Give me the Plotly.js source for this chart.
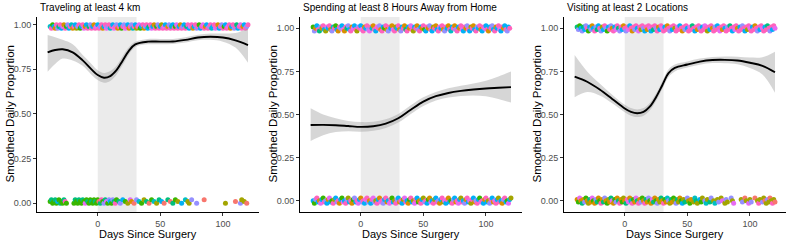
<!DOCTYPE html>
<html>
<head>
<meta charset="utf-8">
<script src="https://cdn.plot.ly/plotly-3.0.1.min.js"></script>
<style>html,body{margin:0;padding:0;background:#fff;}#chart{width:789px;height:241px;}</style>
</head>
<body>
<div id="chart"></div>
<script>
// ---- data ----
const panelTitles = ["Traveling at least 4 km", "Spending at least 8 Hours Away from Home", "Visiting at least 2 Locations"];
const xTitle = "Days Since Surgery";
const yTitle = "Smoothed Daily Proportion";
const xTickVals = [0, 50, 100];
const yTickVals = [0, 0.25, 0.5, 0.75, 1];
const yTickText = ["0.00", "0.25", "0.50", "0.75", "1.00"];
const surgeryWindow = [0, 31];
const participantColors = ["#F8766D","#D89000","#A3A500","#39B600","#00BF7D","#00BFC4","#00B0F6","#9590FF","#E76BF3","#FF62BC"];

// jittered daily observations: [day, jitter step, participant]
const top1 = [[-38,-1,5],[-37,-2,9],[-36,0,3],[-35,-1,6],[-34,-2,1],[-33,0,9],[-32,-2,7],[-31,-1,4],[-30,0,9],[-29,-2,6],
[-28,-1,8],[-27,0,1],[-26,-2,9],[-25,-1,3],[-24,0,7],[-23,-2,6],[-22,-1,9],[-21,0,5],[-20,-2,1],[-19,-1,9],
[-18,0,6],[-17,-2,2],[-16,-1,7],[-15,0,9],[-14,-2,3],[-13,-1,6],[-12,0,9],[-11,-2,8],[-10,-1,1],[-9,0,6],
[-8,-2,9],[-7,-1,4],[-6,0,7],[-5,-2,9],[-4,-1,6],[-3,0,1],[-2,-2,9],[-1,-1,8],[0,0,6],[1,-2,9],
[2,-1,7],[3,0,9],[4,-2,1],[5,-1,6],[6,0,9],[7,-2,8],[8,-1,7],[9,0,9],[10,-2,5],[11,-1,9],
[12,0,6],[13,-2,8],[14,-1,9],[15,0,7],[16,-2,1],[17,-1,9],[18,0,6],[19,-2,3],[20,-1,9],[21,0,7],
[22,-2,8],[23,-1,9],[24,0,6],[25,-2,1],[26,-1,9],[27,0,7],[28,-2,5],[29,-1,9],[30,0,6],[31,-2,2],
[32,-1,9],[33,0,8],[34,-2,3],[35,-1,6],[36,0,9],[37,-2,1],[38,-1,7],[39,0,9],[40,-2,6],[41,-1,4],
[42,0,9],[43,-2,8],[44,-1,6],[45,0,1],[46,-2,9],[47,-1,3],[48,0,7],[49,-2,9],[50,-1,6],[51,0,2],
[52,-2,9],[53,-1,8],[54,0,6],[55,-2,9],[56,-1,1],[57,0,7],[58,-2,9],[59,-1,5],[60,0,6],[61,-2,9],
[62,-1,3],[63,0,8],[64,-2,9],[65,-1,6],[66,0,1],[67,-2,9],[68,-1,7],[69,0,6],[70,-2,9],[71,-1,4],
[72,0,9],[73,-2,6],[74,-1,8],[75,0,9],[76,-2,1],[77,-1,6],[78,0,9],[79,-2,7],[80,-1,9],[81,0,3],
[82,-2,6],[83,-1,9],[84,0,8],[85,-2,9],[86,-1,1],[87,0,6],[88,-2,9],[89,-1,7],[90,0,9],[91,-2,5],
[92,-1,6],[93,0,9],[94,-2,8],[95,-1,9],[96,0,1],[97,-2,6],[98,-1,9],[99,0,7],[100,-2,9],[101,-1,3],
[102,0,6],[103,-2,9],[104,-1,8],[105,0,9],[106,-2,1],[107,-1,6],[108,0,9],[109,-2,7],[110,-1,9],[111,0,4],
[112,-2,6],[113,-1,9],[114,0,8],[115,-2,9],[116,-1,1],[117,0,6],[118,-2,9],[119,-1,7],[120,0,9]];

const bottom1 = [[-38,1,3],[-37,2,4],[-36,0,3],[-35,1,3],[-34,2,4],[-33,0,3],[-32,1,6],[-31,2,3],[-30,0,4],[-29,1,3],
[-28,0,3],[-27,2,4],[-26,1,9],[-25,0,3],
[-19,0,3],[-18,2,4],[-17,1,3],[-16,0,3],[-15,2,4],[-14,1,3],[-13,0,3],[-12,2,4],[-11,1,3],[-10,0,8],
[-9,2,3],[-8,1,4],[-7,0,3],[-6,2,3],[-5,1,4],[-4,0,3],[-3,2,3],[-2,1,4],[-1,0,3],[0,2,3],
[1,1,0],[2,0,4],[3,2,9],[4,1,3],[5,0,7],[6,2,4],[7,1,8],[8,0,3],[9,2,7],[10,1,6],
[11,0,3],[12,2,7],[13,1,4],[14,0,9],[15,2,3],[17,1,4],[18,0,7],[20,2,6],[22,1,3],[24,0,2],
[26,2,8],[27,1,1],[29,0,0],[31,2,7],[33,1,5],[35,0,3],[37,2,2],[39,1,4],[41,0,0],[43,2,3],
[45,1,5],[47,0,2],[49,2,4],[51,1,6],[53,0,0],[56,2,4],[58,1,0],[60,0,4],[62,2,3],[64,1,2],
[67,0,6],[70,2,5],[72,1,2],[73,0,2],[75,2,7],[79,0,7],[85,2,0],[102,0,2],[110,1,0],[114,0,7],
[115,2,2],[117,1,2],[119,0,0]];

const top2 = [[-38,1,3],[-37,-2,7],[-36,0,1],[-35,2,6],[-34,-1,9],[-33,-2,4],[-32,1,7],[-31,0,1],[-30,2,9],[-29,-1,6],
[-28,-2,2],[-27,1,8],[-26,0,6],[-25,2,9],[-24,-1,1],[-23,-2,7],[-22,1,5],[-21,0,9],[-20,2,3],[-19,-1,6],
[-18,-2,1],[-17,1,9],[-16,0,7],[-15,2,6],[-14,-1,8],[-13,-2,1],[-12,1,9],[-11,0,4],[-10,2,7],[-9,-1,6],
[-8,-2,9],[-7,1,1],[-6,0,8],[-5,2,6],[-4,-1,9],[-3,-2,2],[-2,1,7],[-1,0,9],[0,2,6],[1,-1,8],
[2,-2,9],[3,1,1],[4,0,6],[5,2,9],[6,-1,7],[7,-2,8],[8,1,9],[9,0,5],[10,2,1],[11,-1,9],
[12,-2,6],[13,1,8],[14,0,9],[15,2,7],[16,-1,1],[17,-2,9],[18,1,6],[19,0,3],[20,2,9],[21,-1,1],
[22,-2,7],[23,1,9],[24,0,6],[25,2,1],[26,-1,8],[27,-2,9],[28,1,2],[29,0,6],[30,2,9],[31,-1,1],
[32,-2,7],[33,1,6],[34,0,9],[35,2,1],[36,-1,4],[37,-2,9],[38,1,6],[39,0,1],[40,2,8],[41,-1,9],
[42,-2,2],[43,1,6],[44,0,9],[45,2,1],[46,-1,7],[47,-2,9],[48,1,6],[49,0,1],[50,2,9],[51,-1,3],
[52,-2,6],[53,1,9],[54,0,1],[55,2,7],[56,-1,9],[57,-2,6],[58,1,2],[59,0,9],[60,2,1],[61,-1,6],
[62,-2,9],[63,1,8],[64,0,6],[65,2,9],[66,-1,1],[67,-2,7],[68,1,9],[69,0,6],[70,2,1],[71,-1,9],
[72,-2,5],[73,1,6],[74,0,9],[75,2,1],[76,-1,7],[77,-2,9],[78,1,6],[79,0,1],[80,2,9],[81,-1,8],
[82,-2,6],[83,1,9],[84,0,1],[85,2,7],[86,-1,9],[87,-2,6],[88,1,2],[89,0,9],[90,2,1],[91,-1,6],
[92,-2,9],[93,1,7],[94,0,6],[95,2,9],[96,-1,1],[97,-2,6],[98,1,9],[99,0,8],[100,2,6],[101,-1,9],
[102,-2,1],[103,1,6],[104,0,9],[105,2,7],[106,-1,6],[107,-2,9],[108,1,1],[109,0,6],[110,2,9],[111,-1,8],
[112,-2,6],[113,1,9],[114,0,1],[115,2,6],[116,-1,9],[117,-2,7],[118,1,6],[119,0,9]];

const bottom2 = [[-38,0,6],[-37,-2,3],[-36,1,7],[-35,2,9],[-34,-1,6],[-33,0,1],[-32,-2,8],[-31,1,6],[-30,2,3],[-29,-1,9],
[-28,0,7],[-27,-2,6],[-26,1,1],[-25,2,8],[-24,-1,6],[-23,0,3],[-22,-2,9],[-21,1,2],[-20,2,6],[-19,-1,7],
[-18,0,9],[-17,-2,1],[-16,1,6],[-15,2,3],[-14,-1,8],[-13,0,6],[-12,-2,9],[-11,1,7],[-10,2,2],[-9,-1,6],
[-8,0,9],[-7,-2,1],[-6,1,3],[-5,2,7],[-4,-1,6],[-3,0,9],[-2,-2,8],[-1,1,6],[0,2,1],[1,-1,7],
[2,0,9],[3,-2,6],[4,1,8],[5,2,9],[6,-1,7],[7,0,1],[8,-2,6],[9,1,9],[10,2,8],[11,-1,7],
[12,0,2],[13,-2,9],[14,1,6],[15,2,1],[16,-1,8],[17,0,9],[18,-2,7],[19,1,6],[20,2,9],[21,-1,1],
[22,0,6],[23,-2,8],[24,1,9],[25,2,3],[26,-1,6],[27,0,2],[28,-2,9],[29,1,7],[30,2,6],[31,-1,1],
[32,0,9],[33,-2,6],[34,1,2],[35,2,8],[36,-1,9],[37,0,6],[38,-2,1],[39,1,3],[40,2,9],[41,-1,6],
[42,0,2],[43,-2,8],[44,1,9],[45,2,6],[46,-1,3],[47,0,1],[48,-2,9],[49,1,6],[50,2,2],[51,-1,7],
[52,0,9],[53,-2,6],[54,1,3],[55,2,1],[56,-1,8],[57,0,6],[58,-2,9],[59,1,2],[60,2,6],[61,-1,9],
[62,0,7],[63,-2,1],[64,1,6],[65,2,9],[66,-1,2],[67,0,8],[68,-2,6],[69,1,9],[70,2,1],[71,-1,6],
[72,0,3],[73,-2,9],[74,1,7],[75,2,6],[76,-1,1],[77,0,9],[78,-2,8],[79,1,6],[80,2,2],[81,-1,9],
[82,0,6],[83,-2,7],[84,1,1],[85,2,9],[86,-1,6],[87,0,8],[88,-2,2],[89,1,9],[90,2,6],[91,-1,1],
[92,0,7],[93,-2,9],[94,1,6],[95,2,3],[96,-1,8],[97,0,9],[98,-2,6],[99,1,1],[100,2,9],[101,-1,6],
[102,0,2],[103,-2,7],[104,1,9],[105,2,6],[106,-1,1],[107,0,8],[108,-2,9],[109,1,6],[110,2,2],[111,-1,9],
[112,0,6],[113,-2,1],[114,1,7],[115,2,9],[116,-1,6],[117,0,3],[118,-2,8],[119,1,6],[120,2,2]];

const top3 = [[-38,1,4],[-37,-1,7],[-36,2,3],[-35,0,6],[-34,-2,7],[-33,1,4],[-32,-1,6],[-31,2,7],[-30,0,9],[-29,-2,3],
[-28,1,6],[-27,-1,7],[-26,2,1],[-25,0,6],[-24,-2,9],[-23,1,7],[-22,-1,4],[-21,2,6],[-20,0,9],[-19,-2,7],
[-18,1,2],[-17,-1,6],[-16,2,9],[-15,0,7],[-14,-2,3],[-13,1,6],[-12,-1,9],[-11,2,7],[-10,0,1],[-9,-2,9],
[-8,1,6],[-7,-1,8],[-6,2,9],[-5,0,4],[-4,-2,7],[-3,1,9],[-2,-1,6],[-1,2,1],[0,0,9],[1,-2,7],
[2,1,9],[3,-1,8],[4,2,6],[5,0,9],[6,-2,1],[7,1,9],[8,-1,7],[9,2,9],[10,0,6],[11,-2,8],
[12,1,9],[13,-1,2],[14,2,9],[15,0,7],[16,-2,6],[17,1,9],[18,-1,1],[19,2,9],[20,0,8],[21,-2,6],
[22,1,9],[23,-1,4],[24,2,9],[25,0,7],[26,-2,9],[27,1,1],[28,-1,6],[29,2,9],[30,0,8],[31,-2,9],
[32,1,6],[33,-1,9],[34,2,1],[35,0,9],[36,-2,7],[37,1,9],[38,-1,6],[39,2,9],[40,0,2],[41,-2,9],
[42,1,8],[43,-1,9],[44,2,6],[45,0,9],[46,-2,1],[47,1,9],[48,-1,7],[49,2,9],[50,0,6],[51,-2,9],
[52,1,8],[53,-1,9],[54,2,4],[55,0,9],[56,-2,6],[57,1,9],[58,-1,1],[59,2,9],[60,0,7],[61,-2,9],
[62,1,6],[63,-1,9],[64,2,8],[65,0,9],[66,-2,2],[67,1,9],[68,-1,6],[69,2,9],[70,0,1],[71,-2,9],
[72,1,7],[73,-1,9],[74,2,6],[75,0,9],[76,-2,8],[77,1,9],[78,-1,1],[79,2,9],[80,0,6],[81,-2,9],
[82,1,7],[83,-1,9],[84,2,4],[85,0,9],[86,-2,6],[87,1,9],[88,-1,8],[89,2,9],[90,0,1],[91,-2,9],
[92,1,6],[93,-1,9],[94,2,7],[95,0,9],[96,-2,6],[97,1,9],[98,-1,2],[99,2,9],[100,0,8],[101,-2,9],
[102,1,6],[103,-1,9],[104,2,1],[105,0,9],[106,-2,7],[107,1,9],[108,-1,6],[109,2,9],[110,0,8],[111,-2,9],
[112,1,6],[113,-1,9],[114,2,4],[115,0,9],[116,-2,7],[117,1,9],[118,-1,6],[119,2,9],[120,0,8]];

const bottom3 = [[-38,1,1],[-37,-1,3],[-36,2,8],[-35,0,1],[-34,-2,4],[-33,1,1],[-32,-1,7],[-31,2,3],[-30,0,1],[-29,-2,2],
[-28,1,4],[-27,-1,1],[-26,2,8],[-25,0,3],[-24,-2,1],[-23,1,7],[-22,-1,4],[-21,2,1],[-20,0,3],[-19,-2,9],
[-18,1,1],[-17,-1,4],[-16,2,7],[-15,0,1],[-14,-2,3],[-13,1,2],[-12,-1,1],[-11,2,4],[-10,0,8],[-9,-2,1],
[-8,1,3],[-7,-1,7],[-6,2,1],[-5,0,4],[-4,-2,9],[-3,1,1],[-2,-1,3],[-1,2,2],[0,0,1],[1,-2,4],
[2,1,9],[3,-1,8],[4,2,1],[5,0,5],[6,-2,9],[7,1,3],[8,-1,1],[9,2,8],[10,0,4],[11,-2,9],
[12,1,1],[13,-1,7],[14,2,3],[15,0,1],[16,-2,9],[17,1,4],[18,-1,1],[19,2,7],[20,0,3],[21,-2,1],
[22,1,8],[23,-1,4],[24,2,1],[25,0,3],[26,-2,7],[27,1,1],[28,-1,2],[29,2,4],[30,0,1],[31,-2,9],
[32,1,3],[33,-1,1],[34,2,5],[35,0,7],[36,-2,2],[37,1,4],[38,-1,1],[39,2,3],[40,0,2],[41,-2,7],
[42,1,4],[43,-1,2],[44,2,1],[45,0,3],[46,-2,6],[47,1,2],[48,-1,4],[50,2,7],[51,0,2],[52,-2,3],
[53,1,1],[55,-1,2],[56,2,5],[57,0,4],[58,-2,2],[60,1,6],[61,-1,3],[62,2,2],[64,0,7],[65,-2,5],
[66,1,2],[68,-1,4],[69,2,7],[71,0,2],[72,-2,5],[74,1,2],[75,-1,7],[77,2,2],[78,0,8],[80,-2,2],
[81,1,7],[82,-1,2],[85,2,7],[86,0,2],[87,-2,8],[93,1,2],[94,-1,7],[96,2,0],[97,0,2],[99,-2,8],
[100,1,2],[101,-1,7],[104,2,0],[106,0,2],[107,-2,9],[108,1,2],[110,-1,7],[111,2,2],[112,0,0],[113,-2,2],
[114,1,7],[115,-1,2],[116,2,0],[117,0,2],[118,-2,9],[119,1,2],[120,-1,0]];

// smoothed proportions with confidence band
const smoothX1 = [-40,-34,-28,-20,-12,-5,0,5,10,15,20,25,30,40,50,60,70,80,90,100,110,120];
const smoothY1 = [0.845,0.858,0.862,0.845,0.80,0.75,0.718,0.703,0.712,0.745,0.80,0.855,0.89,0.905,0.905,0.906,0.915,0.928,0.932,0.928,0.912,0.886];
const lower1   = [0.737,0.78,0.81,0.80,0.77,0.72,0.69,0.675,0.685,0.72,0.775,0.835,0.875,0.89,0.89,0.892,0.90,0.913,0.915,0.905,0.872,0.787];
const upper1   = [0.942,0.93,0.915,0.89,0.83,0.78,0.745,0.73,0.74,0.77,0.825,0.875,0.905,0.92,0.92,0.92,0.93,0.943,0.95,0.951,0.953,0.98];

const smoothX2 = [-40,-30,-20,-10,0,10,20,30,40,50,60,70,80,90,100,110,120];
const smoothY2 = [0.439,0.44,0.438,0.433,0.428,0.432,0.447,0.478,0.528,0.575,0.606,0.625,0.637,0.645,0.651,0.655,0.659];
const lower2   = [0.346,0.38,0.398,0.403,0.40,0.406,0.422,0.453,0.503,0.55,0.581,0.598,0.607,0.61,0.606,0.59,0.569];
const upper2   = [0.536,0.50,0.478,0.463,0.456,0.458,0.472,0.503,0.553,0.60,0.631,0.652,0.667,0.68,0.696,0.72,0.749];

const smoothX3 = [-40,-30,-20,-10,0,5,10,15,20,25,30,35,40,50,60,70,80,90,100,110,120];
const smoothY3 = [0.72,0.69,0.645,0.59,0.535,0.515,0.507,0.515,0.545,0.60,0.67,0.74,0.77,0.79,0.807,0.816,0.817,0.813,0.80,0.782,0.745];
const lower3   = [0.60,0.63,0.61,0.565,0.513,0.493,0.485,0.493,0.523,0.578,0.648,0.718,0.75,0.772,0.789,0.798,0.797,0.791,0.77,0.732,0.626];
const upper3   = [0.845,0.75,0.68,0.615,0.557,0.537,0.529,0.537,0.567,0.622,0.692,0.762,0.79,0.808,0.825,0.834,0.837,0.835,0.83,0.832,0.864];

// ---- build ----
const W = 789, H = 241;
const FONT = '"Liberation Sans", Arial, Helvetica, sans-serif';
const xDomPx = [[37, 259], [300, 522], [564, 786]];
const yDomPx = [17, 212]; // top, bottom (px)
const xRange = [-48.5, 128.8];
const yRanges = [[-0.049, 1.043], [-0.0655, 1.0655], [-0.0655, 1.0655]];
const jitterStep = [0.01, 0.0075, 0.0075];

const panels = [
  {top: top1, bottom: bottom1, sx: smoothX1, sy: smoothY1, lo: lower1, hi: upper1},
  {top: top2, bottom: bottom2, sx: smoothX2, sy: smoothY2, lo: lower2, hi: upper2},
  {top: top3, bottom: bottom3, sx: smoothX3, sy: smoothY3, lo: lower3, hi: upper3}
];

const traces = [];
const layout = {
  width: W, height: H, autosize: false,
  margin: {l: 0, r: 0, t: 0, b: 0, pad: 0},
  paper_bgcolor: '#fff', plot_bgcolor: 'rgba(0,0,0,0)',
  showlegend: false,
  font: {family: FONT, color: '#000'},
  shapes: [], annotations: []
};

panels.forEach((p, i) => {
  const n = i === 0 ? '' : String(i + 1);
  const xa = 'x' + n, ya = 'y' + n;
  const jit = (arr, base) => ({
    x: arr.map(d => d[0]),
    y: arr.map(d => base + d[1] * jitterStep[i]),
    c: arr.map(d => participantColors[d[2]])
  });
  [jit(p.top, 1), jit(p.bottom, 0)].forEach(s => {
    traces.push({type: 'scatter', mode: 'markers', x: s.x, y: s.y, xaxis: xa, yaxis: ya,
      marker: {size: 5, color: s.c, line: {width: 0}}, hoverinfo: 'skip'});
  });
  traces.push({type: 'scatter', mode: 'lines', x: p.sx, y: p.lo, xaxis: xa, yaxis: ya,
    line: {width: 0, shape: 'spline', smoothing: 1}, hoverinfo: 'skip'});
  traces.push({type: 'scatter', mode: 'lines', x: p.sx, y: p.hi, xaxis: xa, yaxis: ya,
    line: {width: 0, shape: 'spline', smoothing: 1}, fill: 'tonexty',
    fillcolor: 'rgba(153,153,153,0.4)', hoverinfo: 'skip'});
  traces.push({type: 'scatter', mode: 'lines', x: p.sx, y: p.sy, xaxis: xa, yaxis: ya,
    line: {width: 1.9, color: '#000', shape: 'spline', smoothing: 1}, hoverinfo: 'skip'});

  const axCommon = {
    showline: true, linecolor: '#000', linewidth: 1, mirror: false,
    ticks: 'outside', ticklen: 3, tickwidth: 1, tickcolor: '#333',
    showgrid: false, zeroline: false,
    tickfont: {family: FONT, size: 9, color: '#4D4D4D'}, fixedrange: true
  };
  layout['xaxis' + n] = Object.assign({}, axCommon, {
    domain: [xDomPx[i][0] / W, xDomPx[i][1] / W], range: xRange, anchor: ya,
    tickmode: 'array', tickvals: xTickVals, ticktext: xTickVals.map(String)
  });
  layout['yaxis' + n] = Object.assign({}, axCommon, {
    domain: [(H - yDomPx[1]) / H, (H - yDomPx[0]) / H], range: yRanges[i], anchor: xa,
    tickmode: 'array', tickvals: yTickVals, ticktext: yTickText
  });
  layout.shapes.push({type: 'rect', xref: xa, yref: ya + ' domain', x0: surgeryWindow[0], x1: surgeryWindow[1],
    y0: 0, y1: 1, fillcolor: '#EBEBEB', line: {width: 0}, layer: 'below'});

  layout.annotations.push({text: panelTitles[i], xref: 'paper', yref: 'paper',
    x: (xDomPx[i][0] + 1) / W, y: (H - 7) / H, xanchor: 'left', yanchor: 'middle', showarrow: false,
    font: {family: FONT, size: 10, color: '#000'}});
  layout.annotations.push({text: xTitle, xref: 'paper', yref: 'paper',
    x: (xDomPx[i][0] + xDomPx[i][1]) / 2 / W, y: (H - 234) / H, xanchor: 'center', yanchor: 'middle', showarrow: false,
    font: {family: FONT, size: 11, color: '#000'}});
  layout.annotations.push({text: yTitle, xref: 'paper', yref: 'paper', textangle: -90,
    x: (xDomPx[i][0] - 28) / W, y: (H - (yDomPx[0] + yDomPx[1]) / 2) / H, xanchor: 'center', yanchor: 'middle', showarrow: false,
    font: {family: FONT, size: 11.5, color: '#000'}});
});

Plotly.newPlot('chart', traces, layout, {staticPlot: true, displayModeBar: false});
</script>
</body>
</html>
